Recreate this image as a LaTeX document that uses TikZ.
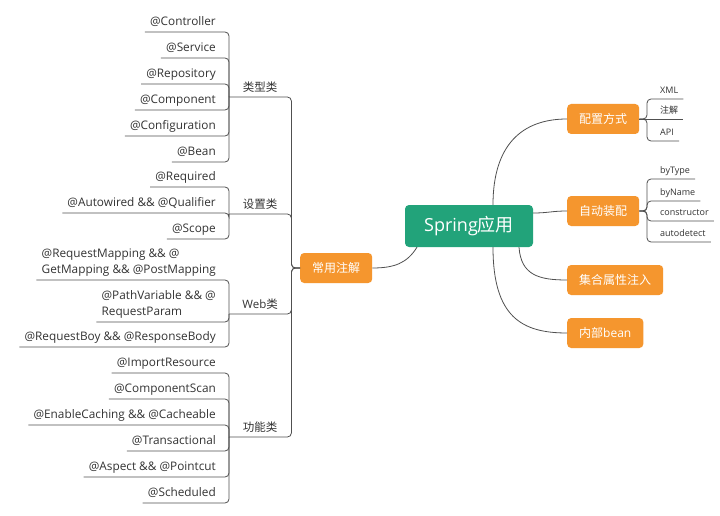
\documentclass[tikz,border=0pt]{standalone}
\usepackage{fontspec}
\setmainfont{Open Sans}
\newfontfamily\cjk{Noto Sans CJK SC}
\newcommand\zh[1]{{\cjk #1}}
\usetikzlibrary{calc}
\definecolor{springgreen}{HTML}{22A37A}
\definecolor{boxorange}{HTML}{F5962E}
\definecolor{linegray}{HTML}{505050}
\definecolor{txtgray}{HTML}{333333}
\begin{document}
\begin{tikzpicture}[x=1pt,y=-1pt,
  conn/.style={draw=linegray, line width=0.8pt},
  brk/.style={draw=linegray, line width=0.8pt, rounded corners=4pt},
  rootbox/.style={fill=springgreen, rounded corners=4pt, text=white, font=\fontsize{18}{20}\selectfont, minimum width=128pt, minimum height=42pt, inner sep=0pt},
  mainbox/.style={fill=boxorange, rounded corners=4pt, text=white, font=\fontsize{12}{14}\selectfont, minimum height=30pt, inner xsep=12pt, inner ysep=0pt, anchor=west},
  leaf/.style={text=txtgray, font=\fontsize{11.8}{16}\selectfont, inner xsep=5pt, inner ysep=4pt, text depth=2.3pt, anchor=south east, align=left},
  cat/.style={text=txtgray, font=\fontsize{11.5}{14}\selectfont, minimum width=62pt, inner xsep=0pt, inner ysep=3.6pt, text depth=2pt, anchor=south west},
  small/.style={text=txtgray, font=\fontsize{9}{11}\selectfont, inner xsep=5pt, inner ysep=3.5pt, text depth=2pt, anchor=south west},
]
\useasboundingbox[fill=white] (0,0) rectangle (720,516);

% root and main branches
\node[rootbox] (c) at (469,226) {Spring\zh{应用}};
\node[mainbox] (cy) at (300,268) {\zh{常用注解}};
\node[mainbox] (pz) at (567,119) {\zh{配置方式}};
\node[mainbox] (zd) at (567,211) {\zh{自动装配}};
\node[mainbox] (jh) at (567,280) {\zh{集合属性注入}};
\node[mainbox] (nb) at (567,333) {\zh{内部}bean};

% right small leaves
\node[small] (xml) at (655,99) {XML};
\node[small] (zj)  at (655,119) {\zh{注解}};
\node[small] (api) at (655,141) {API};
\node[small] (bt) at (655,179) {byType};
\node[small] (bn) at (655,201) {byName};
\node[small] (cs) at (655,221) {constructor};
\node[small] (ad) at (655,242) {autodetect};

% categories
\node[cat] (lx)  at (229,97)  {\zh{类型类}};
\node[cat] (sz)  at (229,214) {\zh{设置类}};
\node[cat] (web) at (229,314) {Web\zh{类}};
\node[cat] (gn)  at (229,437) {\zh{功能类}};

% leaves
\node[leaf] (l1) at (221,32)  {@Controller};
\node[leaf] (l2) at (221,58)  {@Service};
\node[leaf] (l3) at (221,84)  {@Repository};
\node[leaf] (l4) at (221,110) {@Component};
\node[leaf] (l5) at (221,136) {@Configuration};
\node[leaf] (l6) at (221,162) {@Bean};

\node[leaf] (s1) at (221,187) {@Required};
\node[leaf] (s2) at (221,213) {@Autowired \&\& @Qualifier};
\node[leaf] (s3) at (221,239) {@Scope};

\node[leaf] (w1) at (221,280) {@RequestMapping \&\& @\\GetMapping \&\& @PostMapping};
\node[leaf] (w2) at (221,322) {@PathVariable \&\& @\\RequestParam};
\node[leaf] (w3) at (221,347) {@RequestBoy \&\& @ResponseBody};

\node[leaf] (g1) at (221,373) {@ImportResource};
\node[leaf] (g2) at (221,399) {@ComponentScan};
\node[leaf] (g3) at (221,425) {@EnableCaching \&\& @Cacheable};
\node[leaf] (g4) at (221,451) {@Transactional};
\node[leaf] (g5) at (221,477) {@Aspect \&\& @Pointcut};
\node[leaf] (g6) at (221,503) {@Scheduled};

% left brackets
\foreach \n in {l1,l2,l3,l4,l5,l6}
  \draw[brk] (\n.south west) -- (\n.south east) -| (lx.south west);
\foreach \n in {s1,s2,s3}
  \draw[brk] (\n.south west) -- (\n.south east) -| (sz.south west);
\foreach \n in {w1,w2,w3}
  \draw[brk] (\n.south west) -- (\n.south east) -| (web.south west);
\foreach \n in {g1,g2,g3,g4,g5,g6}
  \draw[brk] (\n.south west) -- (\n.south east) -| (gn.south west);
\foreach \n in {lx,sz,web,gn}
  \draw[brk] (\n.south west) -- (\n.south east) |- (cy.west);

% right brackets
\foreach \n in {xml,api}
  \draw[brk] (pz.east) -| ([xshift=-8pt]\n.south west) -- (\n.south east);
\draw[conn] (pz.east) -- (zj.south east);
\foreach \n in {bt,bn,cs,ad}
  \draw[brk] (zd.east) -| ([xshift=-8pt]\n.south west) -- (\n.south east);

% curved connectors from root
\draw[conn] ([xshift=24pt]c.north) .. controls +(0,-60) and +(-45,0) .. (pz.west);
\draw[conn] ([yshift=13pt]c.east) .. controls +(15,0) and +(-15,0) .. (zd.west);
\draw[conn] ([xshift=50pt]c.south) .. controls +(2,28) and +(-28,0) .. (jh.west);
\draw[conn] ([xshift=24pt]c.south) .. controls +(0,70) and +(-45,0) .. (nb.west);
\draw[conn] ([xshift=-52pt]c.south) .. controls +(-10,16) and +(22,0) .. (cy.east);
\end{tikzpicture}
\end{document}
